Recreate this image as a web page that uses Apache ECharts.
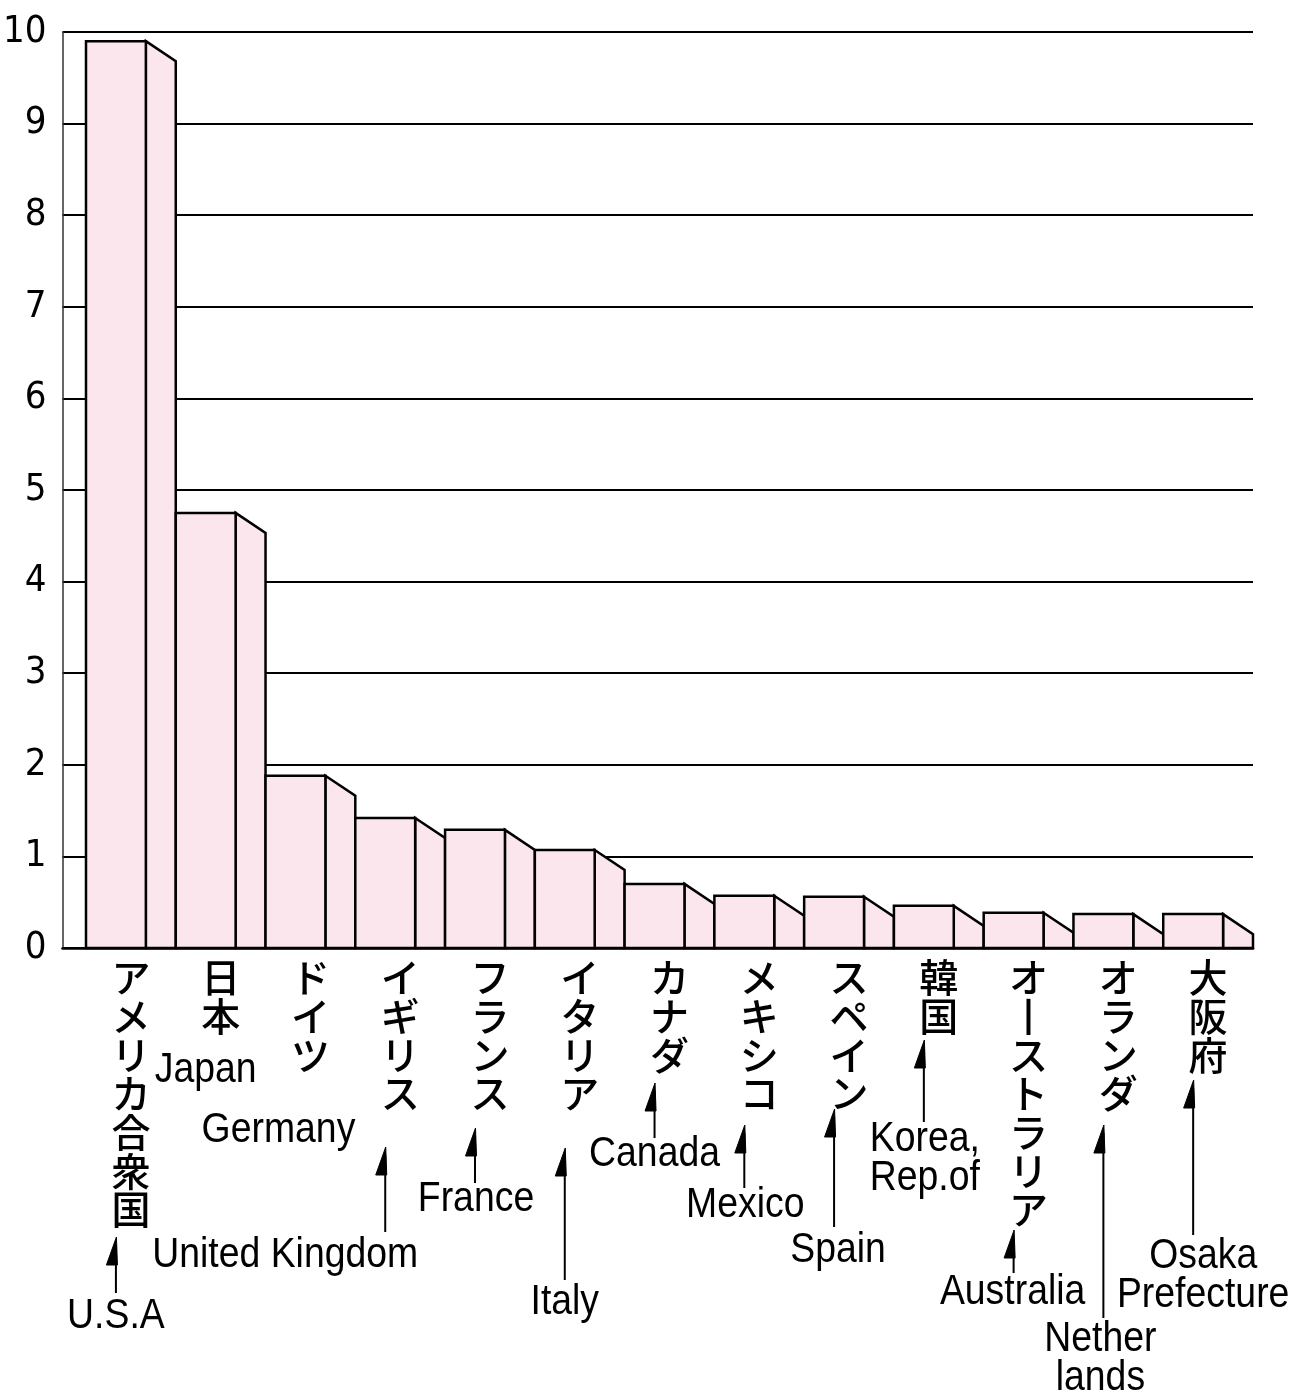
<!DOCTYPE html>
<html>
<head>
<meta charset="utf-8">
<script src="https://cdn.jsdelivr.net/npm/echarts@6/dist/echarts.min.js"></script>
<style>
html,body{margin:0;padding:0;background:#fff;}
#chart{width:1295px;height:1394px;}
</style>
</head>
<body>
<div id="chart"></div>
<script>
// ---- data ----
const categoriesJa = ['アメリカ合衆国','日本','ドイツ','イギリス','フランス','イタリア','カナダ','メキシコ','スペイン','韓国','オーストラリア','オランダ','大阪府'];
const categoriesEn = ['U.S.A','Japan','Germany','United Kingdom','France','Italy','Canada','Mexico','Spain','Korea,\nRep.of','Australia','Nether\nlands','Osaka\nPrefecture'];
const values = [9.9, 4.75, 1.88, 1.42, 1.29, 1.07, 0.70, 0.57, 0.56, 0.46, 0.385, 0.37, 0.37];
const yMin = 0, yMax = 10, yStep = 1;

// ---- layout (pixel offsets below the axis baseline) ----
const annLayout = [
  {dx: 0,    ty: 368, arrow: [289, 345]},
  {dx: 0,    ty: 122, arrow: null},
  {dx: -17,  ty: 182, arrow: null},
  {dx: -100, ty: 307, arrow: [199, 284]},
  {dx: 1,    ty: 251, arrow: [180, 235]},
  {dx: 0,    ty: 354, arrow: [200, 332]},
  {dx: 0,    ty: 206, arrow: [135, 190]},
  {dx: 1,    ty: 257, arrow: [177, 240]},
  {dx: 4,    ty: 302, arrow: [161, 279]},
  {dx: 1,    ty: 211, arrow: [92, 174]},
  {dx: -1,   ty: 344, arrow: [282, 325]},
  {dx: -3,   ty: 411, arrow: [177, 370]},
  {dx: 10,   ty: 328, arrow: [132, 287]}
];

const LAT = "'Liberation Sans',Arial,sans-serif";
const NUM = "'DejaVu Sans Condensed','Liberation Sans',sans-serif";
const JP = "'Noto Sans CJK JP',sans-serif";
const FILL = '#fce6ee';
const DEPTH = 20;
const TEXT_SCALE_X = 0.89;

const chart = echarts.init(document.getElementById('chart'), null, {renderer: 'canvas'});

const gridTop = 32, gridBottom = 1394 - 948, gridRight = 1295 - 1253;

const option = {
  animation: false,
  backgroundColor: '#fff',
  grid: [
    {left: 62, right: gridRight, top: gridTop, bottom: gridBottom, containLabel: false},
    {left: 86, right: gridRight, top: gridTop, bottom: gridBottom, containLabel: false}
  ],
  xAxis: [
    {type: 'category', gridIndex: 0, data: categoriesJa, boundaryGap: true,
     axisLine: {show: true, lineStyle: {color: '#000', width: 2.5}},
     axisTick: {show: false}, axisLabel: {show: false}, splitLine: {show: false}},
    {type: 'category', gridIndex: 1, data: categoriesJa, boundaryGap: true,
     axisLine: {show: false}, axisTick: {show: false},
     axisLabel: {
       show: true, interval: 0, margin: 10,
       fontFamily: JP, fontSize: 39, fontWeight: 500, lineHeight: 38.7, color: '#000',
       formatter: function (v) {
         return v.replace(/ー/g, '丨').split('').join('\n');
       }
     }}
  ],
  yAxis: [
    {type: 'value', gridIndex: 0, min: yMin, max: yMax, interval: yStep,
     axisLine: {show: true, lineStyle: {color: '#333', width: 1.5}},
     axisTick: {show: false},
     axisLabel: {show: true, margin: 16, fontFamily: NUM, fontSize: 38, color: '#000'},
     splitLine: {show: true, lineStyle: {color: '#000', width: 2}}},
    {type: 'value', gridIndex: 1, min: yMin, max: yMax, interval: yStep, show: false,
     splitLine: {show: false}}
  ],
  series: [
    {
      type: 'custom', xAxisIndex: 1, yAxisIndex: 1, silent: true,
      data: values.map((v, i) => [i, v]),
      renderItem: function (params, api) {
        const i = api.value(0), v = api.value(1);
        const base = api.coord([i, 0]);
        const top = api.coord([i, v]);
        const w = api.size([1, 0])[0];
        const x0 = base[0] - w / 2;
        const xf = x0 + w * 2 / 3;
        const x1 = x0 + w;
        const st = {fill: FILL, stroke: '#000', lineWidth: 2.5, lineJoin: 'miter'};
        return {type: 'group', children: [
          {type: 'polygon', shape: {points: [[xf, top[1]], [x1, top[1] + DEPTH], [x1, base[1]], [xf, base[1]]]}, style: st},
          {type: 'rect', shape: {x: x0, y: top[1], width: xf - x0, height: base[1] - top[1]}, style: st}
        ]};
      }
    },
    {
      type: 'custom', xAxisIndex: 1, yAxisIndex: 1, silent: true, clip: false,
      data: values.map((v, i) => [i, v]),
      renderItem: function (params, api) {
        const i = api.value(0);
        const base = api.coord([i, 0]);
        const w = api.size([1, 0])[0];
        const cx = base[0] - w / 2 + w / 3;
        const L = annLayout[i];
        const children = [{
          type: 'text',
          x: cx + L.dx, y: base[1] + L.ty, scaleX: TEXT_SCALE_X,
          style: {
            text: categoriesEn[i], x: 0, y: 0,
            textAlign: 'center', textVerticalAlign: 'middle',
            font: '42px ' + LAT, lineHeight: 38.5, fill: '#000'
          }
        }];
        if (L.arrow) {
          const t = base[1] + L.arrow[0], b = base[1] + L.arrow[1];
          children.push({type: 'line', shape: {x1: cx, y1: t + 8, x2: cx, y2: b}, style: {stroke: '#000', lineWidth: 2}});
          children.push({type: 'polygon', shape: {points: [[cx + 0.5, t], [cx - 9.5, t + 28], [cx + 1.5, t + 28]]}, style: {fill: '#000', stroke: '#000', lineWidth: 1}});
        }
        return {type: 'group', children: children};
      }
    }
  ]
};
chart.setOption(option);
</script>
</body>
</html>
